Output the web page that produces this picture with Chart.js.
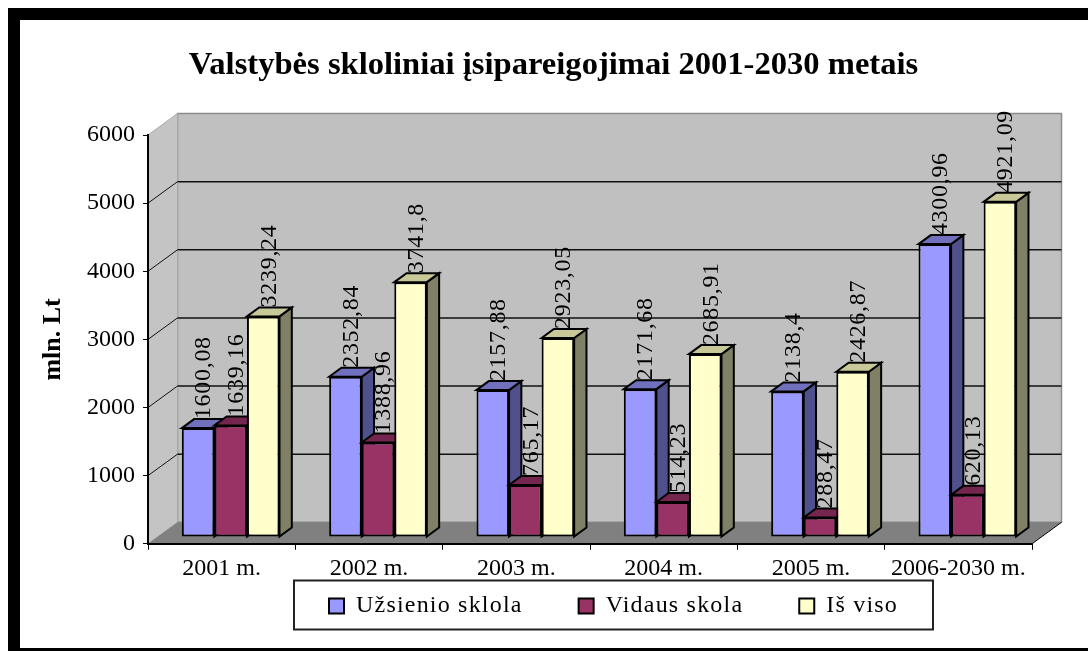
<!DOCTYPE html>
<html><head><meta charset="utf-8">
<style>html,body{margin:0;padding:0;background:#fff}canvas{display:block;filter:blur(.5px)}</style>
<script src="https://cdn.jsdelivr.net/npm/chart.js@4/dist/chart.umd.min.js"></script>
</head><body>
<div style="width:1088px;height:651px"><canvas id="c" width="1088" height="651"></canvas></div>
<script>
const categories = ['2001 m.','2002 m.','2003 m.','2004 m.','2005 m.','2006-2030 m.'];
const uzsienio = [1600.08,2352.84,2157.88,2171.68,2138.4,4300.96];
const vidaus = [1639.16,1388.96,765.17,514.23,288.47,620.13];
const isViso = [3239.24,3741.8,2923.05,2685.91,2426.87,4921.09];
const titleText = 'Valstybės skloliniai įsipareigojimai 2001-2030 metais';
const yTitle = 'mln. Lt';
const serif = '"Liberation Serif","Times New Roman",serif';

const depth = {dx:29.5, dy:-21.5};
const barOff = {dx:9, dy:-6.7};
const barDepth = {dx:12.3, dy:-9};
const faces = [
  {front:'#9999FF', top:'#7070BC', side:'#50508C'},
  {front:'#993366', top:'#75264E', side:'#5A1E3C'},
  {front:'#FFFFCC', top:'#C8C898', side:'#808066'}
];

function poly(ctx, pts, fill, stroke, lw){
  ctx.beginPath();
  pts.forEach((p,i)=> i?ctx.lineTo(p[0],p[1]):ctx.moveTo(p[0],p[1]));
  ctx.closePath();
  if(fill){ctx.fillStyle=fill;ctx.fill();}
  if(stroke){ctx.strokeStyle=stroke;ctx.lineWidth=lw||1;ctx.stroke();}
}

const scene = {
  id:'scene',
  beforeLayout(chart){
    const l=chart.legend;
    if(l && !l._spaced){
      l._spaced=true;
      const fit=l.fit, draw=l.draw;
      l.fit=function(){chart.ctx.letterSpacing='1.2px';fit.call(this);chart.ctx.letterSpacing='0px';this.height=67.2;};
      l.draw=function(){chart.ctx.letterSpacing='1.2px';draw.call(this);chart.ctx.letterSpacing='0px';};
    }
  },
  afterLayout(chart){
    const t=chart.titleBlock, l=chart.legend;
    t.left=-12; t.right=1119; t.top=46; t.bottom=t.top+t.height;
    const p=56, start=329, w=l.lineWidths[0];
    l.left=start-p-100; l.right=start+w+100; l.top=538; l.bottom=651;
  },
  beforeDraw(chart){
    const {ctx,width,height,chartArea:a,scales:{y}}=chart;
    ctx.save();
    ctx.fillStyle='#fff';ctx.fillRect(0,0,width,height);
    ctx.fillStyle='#000';
    ctx.fillRect(8,8,width-8,12);
    ctx.fillRect(8,8,12,height-8);
    ctx.fillRect(8,648,width-8,3);
    const bx0=a.left+depth.dx,bx1=a.right+depth.dx,by0=a.top+depth.dy,by1=a.bottom+depth.dy;
    poly(ctx,[[bx0,by0],[bx1,by0],[bx1,by1],[bx0,by1]],'#C0C0C0','#8C8C8C',1.5);
    poly(ctx,[[a.left,a.top],[bx0,by0],[bx0,by1],[a.left,a.bottom]],'#C4C4C4','#A8A8A8',1);
    poly(ctx,[[a.left,a.bottom],[a.right,a.bottom],[bx1,by1],[bx0,by1]],'#808080');
    ctx.strokeStyle='#000';ctx.lineWidth=1;
    ctx.beginPath();ctx.moveTo(a.right,a.bottom);ctx.lineTo(bx1,by1);ctx.stroke();
    y.ticks.forEach(t=>{
      if(t.value===0||t.value===6000) return;
      const py=y.getPixelForValue(t.value);
      ctx.strokeStyle='#111';ctx.lineWidth=1.5;
      ctx.beginPath();ctx.moveTo(bx0,py+depth.dy);ctx.lineTo(bx1,py+depth.dy);ctx.stroke();
      ctx.lineWidth=1;
      ctx.beginPath();ctx.moveTo(a.left,py);ctx.lineTo(bx0,py+depth.dy);ctx.stroke();
    });
    ctx.restore();
  },
  beforeDatasetsDraw(chart){
    const ctx=chart.ctx;
    chart.data.datasets.forEach((ds,i)=>{
      const meta=chart.getDatasetMeta(i), f=faces[i];
      meta.data.forEach(el=>{
        const r=el.x+el.width/2+barOff.dx, l=el.x-el.width/2+barOff.dx;
        const t=el.y+barOff.dy, b=el.base+barOff.dy;
        const d=barDepth;
        poly(ctx,[[r,t],[r+d.dx,t+d.dy],[r+d.dx,b+d.dy],[r,b]],f.side,'#000',2);
        poly(ctx,[[l,t],[l+d.dx,t+d.dy],[r+d.dx,t+d.dy],[r,t]],f.top,'#000',2);
      });
      ctx.save();
      ctx.translate(barOff.dx,barOff.dy);
      meta.controller.draw();
      ctx.restore();
    });
    chart.data.datasets.forEach((ds,i)=>{
      const meta=chart.getDatasetMeta(i);
      meta.data.forEach((el,j)=>{
        ctx.save();
        ctx.translate(el.x+barOff.dx+6, el.y+barOff.dy-9);
        ctx.rotate(-Math.PI/2);
        ctx.font='24px '+serif;
        ctx.letterSpacing='0.7px';
        ctx.fillStyle='#000';
        ctx.textAlign='left';ctx.textBaseline='middle';
        ctx.fillText(String(ds.data[j]).replace('.',','),0,0);
        ctx.letterSpacing='0px';
        ctx.restore();
      });
    });
    return false;
  },
  afterDraw(chart){
    const ctx=chart.ctx;
    ctx.save();
    ctx.strokeStyle='#222';ctx.lineWidth=2;
    ctx.strokeRect(294,580.5,639,49);
    ctx.restore();
  }
};

new Chart(document.getElementById('c'),{
  type:'bar',
  data:{
    labels:categories,
    datasets:[
      {label:'Užsienio sklola',data:uzsienio,backgroundColor:faces[0].front},
      {label:'Vidaus skola',data:vidaus,backgroundColor:faces[1].front},
      {label:'Iš viso',data:isViso,backgroundColor:faces[2].front}
    ]
  },
  plugins:[scene],
  options:{
    responsive:false,animation:false,
    layout:{padding:{left:38,right:56,top:95.9,bottom:0}},
    datasets:{bar:{categoryPercentage:0.663,barPercentage:1,borderColor:'#000',borderWidth:2,borderSkipped:false,clip:false}},
    plugins:{
      tooltip:{enabled:false},
      title:{display:true,text:titleText,color:'#000',padding:0,font:{family:serif,size:32.6,weight:'bold'}},
      legend:{position:'bottom',align:'center',labels:{boxWidth:15,boxHeight:15,padding:56,color:'#000',font:{family:serif,size:24}}}
    },
    scales:{
      x:{
        grid:{drawOnChartArea:false,drawTicks:true,tickLength:6,color:'#000',offset:true},
        border:{color:'#000',width:2},
        ticks:{color:'#000',padding:5,maxRotation:0,autoSkip:false,font:{family:serif,size:24}},
        afterFit(s){s.height=40;}
      },
      y:{
        min:0,max:6000,
        grid:{drawOnChartArea:false,drawTicks:true,tickLength:5,color:'#000'},
        border:{color:'#000',width:2},
        ticks:{stepSize:1000,color:'#000',padding:8,font:{family:serif,size:24},callback:v=>String(v)},
        title:{display:true,text:yTitle,color:'#000',padding:0,font:{family:serif,size:26,weight:'bold'}},
        afterFit(s){s.width=110;}
      }
    }
  }
});
</script>
</body></html>
